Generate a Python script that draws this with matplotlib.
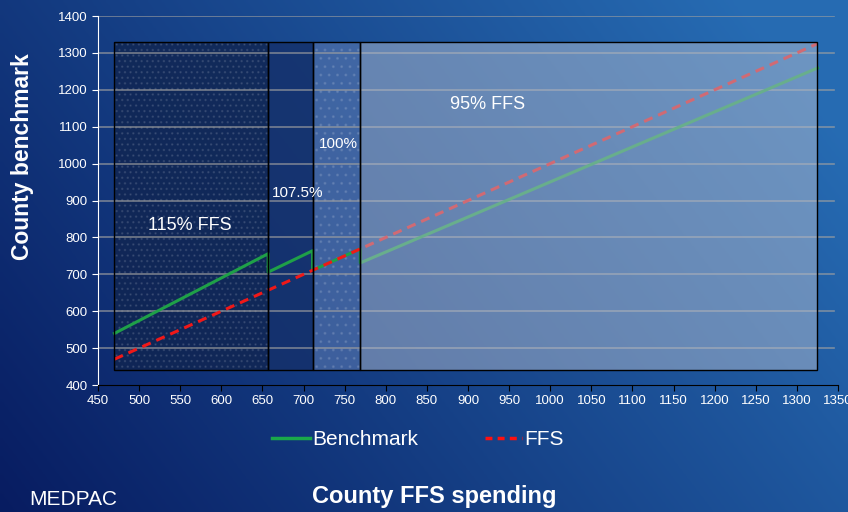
import numpy as np
import matplotlib.pyplot as plt
from matplotlib.patches import Rectangle
from matplotlib.lines import Line2D

plt.rcParams['font.family'] = ['Liberation Sans', 'DejaVu Sans']

# data
bench_x = [470, 657, 657, 711, 711, 769, 769, 1325]
bench_y = [540, 756, 706, 764, 711, 769, 731, 1259]
ffs_x = [470, 1325]
ffs_y = [470, 1325]

zone_edges = [470, 657, 711, 769, 1325]
zone_labels = ['115% FFS', '107.5%', '100%', '95% FFS']
label_pos = [(562, 831), (693, 920), (742, 1053), (924, 1161)]

x_ticks = list(range(450, 1351, 50))
y_ticks = list(range(400, 1401, 100))

fig = plt.figure(figsize=(8.48, 5.12), dpi=100)

# blue gradient background
bg = fig.add_axes([0, 0, 1, 1], zorder=-10)
gx, gy = np.meshgrid(np.linspace(0, 1, 200), np.linspace(0, 1, 200))
t = np.clip(0.75 * gx + 0.35 * gy, 0, 1)
c0 = np.array([0.03, 0.11, 0.38])
c1 = np.array([0.15, 0.42, 0.70])
img = c0 + (c1 - c0) * t[..., None]
bg.imshow(img, origin='lower', extent=[0, 1, 0, 1], aspect='auto')
bg.axis('off')

ax = fig.add_axes([0.1156, 0.248, 0.8726, 0.7207])
ax.set_facecolor('none')

ax.plot(bench_x, bench_y, color='#1fa048', lw=2.2, zorder=2.5)
ax.plot(ffs_x, ffs_y, color='#f01818', lw=2.2, ls=(0, (3, 2)), zorder=2.5)

# zone fills: first three under the lines, last one over them
fills = [('#10244f', 0.8, '...', 1.5), ('#15306a', 0.8, None, 1.5),
         ('#5a78b0', 0.6, '..', 1.5), ('#b2bdd0', 0.5, None, 3)]
for i in range(4):
    x0, x1 = zone_edges[i], zone_edges[i + 1]
    col, al, h, z = fills[i]
    ax.add_patch(Rectangle((x0, 440), x1 - x0, 890, facecolor=col, alpha=al,
                           edgecolor='none', zorder=z))
    if h:
        ax.add_patch(Rectangle((x0, 440), x1 - x0, 890, facecolor='none',
                               edgecolor=(1, 1, 1, 0.1), hatch=h, lw=0, zorder=z))
    ax.add_patch(Rectangle((x0, 440), x1 - x0, 890, facecolor='none',
                           edgecolor='black', lw=1.0, zorder=4))

for lab, (px, py) in zip(zone_labels, label_pos):
    ax.text(px, py, lab, color='white', fontsize=13 if 'FFS' in lab else 11,
            ha='center', va='center', zorder=5)

ax.set_xlim(450, 1350)
ax.set_ylim(400, 1400)
ax.set_xticks(x_ticks)
ax.set_yticks(y_ticks)
ax.tick_params(axis='both', colors='white', labelsize=9.5, length=4)
ax.tick_params(axis='x', color='black')
for yv in y_ticks[1:]:
    ax.plot([450, 1345], [yv, yv], color='#a0a0a0', lw=1.2, alpha=0.7, zorder=1.8)
ax.spines['top'].set_visible(False)
ax.spines['right'].set_visible(False)
ax.spines['left'].set_color('white')
ax.spines['bottom'].set_color('black')

fig.text(0.027, 0.695, 'County benchmark', color='white', fontsize=16.5,
         fontweight='bold', rotation=90, ha='center', va='center')
fig.text(0.512, 0.03, 'County FFS spending', color='white', fontsize=17,
         fontweight='bold', ha='center', va='center')
fig.text(0.034, 0.025, 'MEDPAC', color='white', fontsize=15, ha='left', va='center')

handles = [Line2D([], [], color='#1aa84a', lw=2.5),
           Line2D([], [], color='#ff1010', lw=2.5, ls=(0, (2, 1.5)))]
fig.legend(handles, ['Benchmark', 'FFS'], loc='center', bbox_to_anchor=(0.493, 0.141),
           ncol=2, frameon=False, fontsize=15, labelcolor='white', handlelength=1.8,
           handletextpad=0.1, columnspacing=3.2)

fig.savefig('out.png', dpi=100)
